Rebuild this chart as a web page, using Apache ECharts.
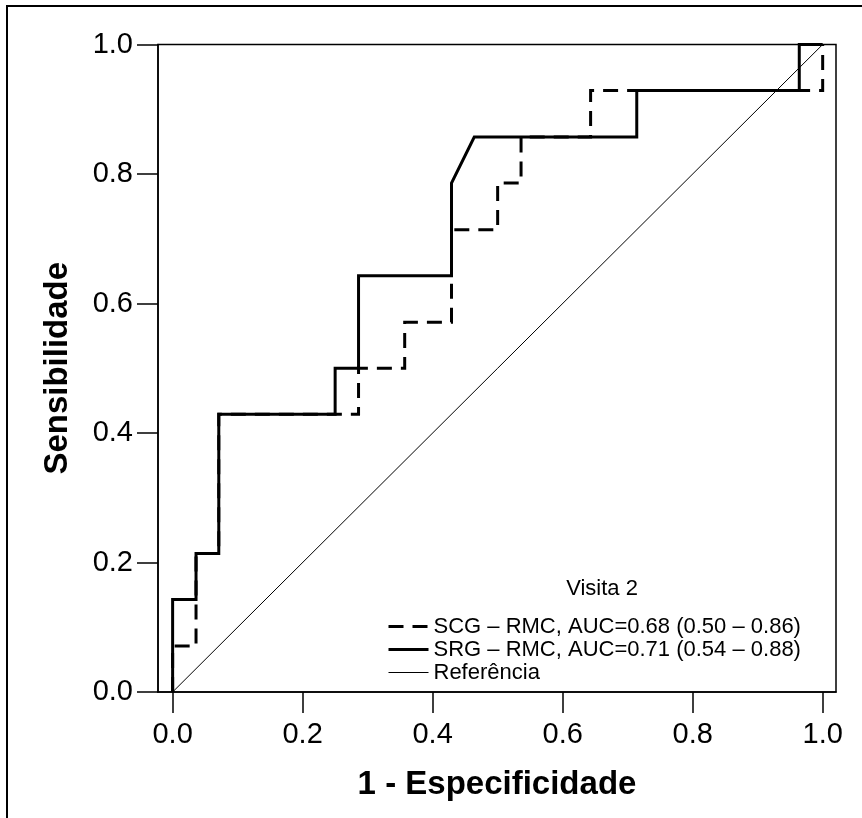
<!DOCTYPE html>
<html>
<head>
<meta charset="utf-8">
<script src="https://cdn.jsdelivr.net/npm/echarts@6/dist/echarts.min.js"></script>
<style>
html,body{margin:0;padding:0;background:#fff;}
#chart{width:862px;height:818px;}
</style>
</head>
<body>
<div id="chart"></div>
<script>
// ---- data ----
const scgX = [0, 0, 0.036, 0.036, 0.071, 0.071, 0.286, 0.286, 0.357, 0.357, 0.429, 0.429, 0.500, 0.500, 0.536, 0.536, 0.643, 0.643, 1.000, 1.000];
const scgY = [0, 0.071, 0.071, 0.214, 0.214, 0.429, 0.429, 0.500, 0.500, 0.571, 0.571, 0.714, 0.714, 0.786, 0.786, 0.857, 0.857, 0.929, 0.929, 1.000];
const srgX = [0, 0, 0.036, 0.036, 0.071, 0.071, 0.250, 0.250, 0.286, 0.286, 0.429, 0.429, 0.464, 0.714, 0.714, 0.964, 0.964, 1.000];
const srgY = [0, 0.143, 0.143, 0.214, 0.214, 0.429, 0.429, 0.500, 0.500, 0.643, 0.643, 0.786, 0.857, 0.857, 0.929, 0.929, 1.000, 1.000];
const refX = [0, 1];
const refY = [0, 1];
const tickValues = [0, 0.2, 0.4, 0.6, 0.8, 1.0];
const seriesNames = ['SCG – RMC, AUC=0.68 (0.50 – 0.86)', 'SRG – RMC, AUC=0.71 (0.54 – 0.88)', 'Referência'];
const legendTitle = 'Visita 2';
const xTitle = '1 - Especificidade';
const yTitle = 'Sensibilidade';

const zip = (a, b) => a.map((v, i) => [v, b[i]]);
const F = '"Liberation Sans", Arial, Helvetica, sans-serif';
const DASH = [15, 9];

const chart = echarts.init(document.getElementById('chart'), null, {renderer: 'canvas'});
chart.setOption({
  backgroundColor: '#fff',
  animation: false,
  title: {
    text: legendTitle,
    left: 602, top: 578, textAlign: 'center', padding: 0,
    textStyle: {fontFamily: F, fontSize: 22, fontWeight: 'normal', color: '#000'}
  },
  legend: {
    orient: 'vertical',
    left: 387, top: 615, padding: 0,
    itemWidth: 40, itemHeight: 14, itemGap: 0,
    data: [
      {name: seriesNames[0], itemStyle: {opacity: 0}, lineStyle: {color: '#000', width: 3, type: DASH, cap: 'butt'}},
      {name: seriesNames[1], itemStyle: {opacity: 0}, lineStyle: {color: '#000', width: 3, type: 'solid'}},
      {name: seriesNames[2], itemStyle: {opacity: 0}, lineStyle: {color: '#000', width: 1, type: 'solid'}}
    ],
    textStyle: {fontFamily: F, fontSize: 22, color: '#000', lineHeight: 23},
    selectedMode: false
  },
  grid: {
    left: 158, right: 26, top: 44.5, bottom: 126,
    show: true, borderColor: '#000', borderWidth: 1.5, containLabel: false
  },
  xAxis: {
    type: 'value', min: -0.0225, max: 1.0205,
    name: xTitle, nameLocation: 'middle', nameGap: 76,
    nameTextStyle: {fontFamily: F, fontSize: 33, fontWeight: 'bold', color: '#000'},
    axisLine: {show: true, onZero: false, lineStyle: {color: '#000', width: 1.5}},
    axisTick: {show: true, length: 21, customValues: tickValues, lineStyle: {color: '#000', width: 1.5}},
    axisLabel: {show: true, customValues: tickValues, margin: 28, fontFamily: F, fontSize: 29, color: '#000',
      formatter: v => v.toFixed(1)},
    splitLine: {show: false}
  },
  yAxis: {
    type: 'value', min: 0, max: 1, interval: 0.2,
    name: yTitle, nameLocation: 'middle', nameGap: 84,
    nameTextStyle: {fontFamily: F, fontSize: 33, fontWeight: 'bold', color: '#000'},
    axisLine: {show: true, onZero: false, lineStyle: {color: '#000', width: 1.5}},
    axisTick: {show: true, length: 21, lineStyle: {color: '#000', width: 1.5}},
    axisLabel: {show: true, margin: 25, fontFamily: F, fontSize: 29, color: '#000',
      formatter: v => v.toFixed(1)},
    splitLine: {show: false}
  },
  graphic: [{
    type: 'rect', silent: true, z: -1,
    shape: {x: 7, y: 6, width: 1000, height: 1000},
    style: {fill: null, stroke: '#000', lineWidth: 2}
  }],
  series: [
    {
      name: seriesNames[0], type: 'line', data: zip(scgX, scgY),
      showSymbol: false, symbol: 'none', z: 3,
      lineStyle: {color: '#000', width: 3, type: DASH, cap: 'butt', join: 'miter'},
      itemStyle: {color: '#000'}
    },
    {
      name: seriesNames[1], type: 'line', data: zip(srgX, srgY),
      showSymbol: false, symbol: 'none', z: 4,
      lineStyle: {color: '#000', width: 3, type: 'solid', cap: 'butt', join: 'miter'},
      itemStyle: {color: '#000'}
    },
    {
      name: seriesNames[2], type: 'line', data: zip(refX, refY),
      showSymbol: false, symbol: 'none', z: 2,
      lineStyle: {color: '#000', width: 1, type: 'solid'},
      itemStyle: {color: '#000'}
    }
  ]
});
</script>
</body>
</html>
